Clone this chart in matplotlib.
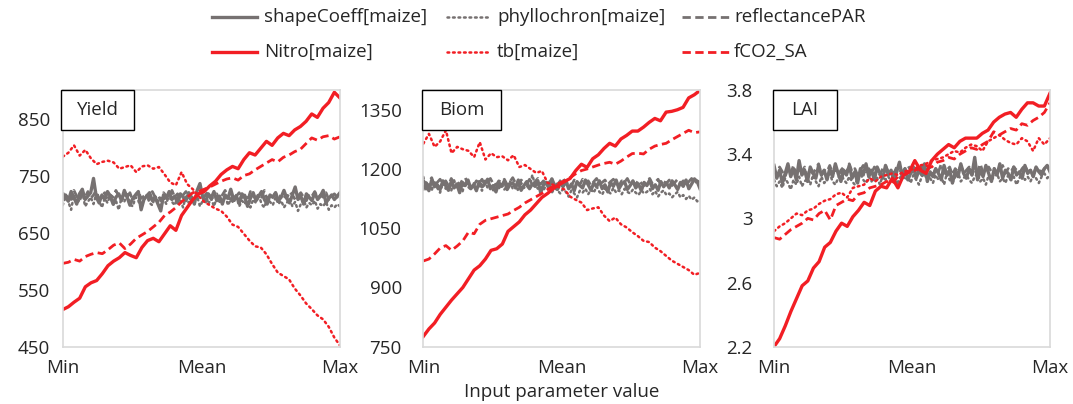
import matplotlib
matplotlib.use("Agg")
import matplotlib.pyplot as plt
from matplotlib.lines import Line2D
from matplotlib.patches import Rectangle
import numpy as np

plt.rcParams['font.family'] = ['Open Sans', 'DejaVu Sans']

# ---------------- data ----------------
series_names = ["shapeCoeff[maize]", "phyllochron[maize]", "reflectancePAR",
                "Nitro[maize]", "tb[maize]", "fCO2_SA"]
x_tick_labels = ["Min", "Mean", "Max"]
panel_titles = ["Yield", "Biom", "LAI"]

# Yield
yield_shape = [710,716,705,722,712,700,718,726,708,714,
               720,745,712,702,716,708,722,714,700,712,
               718,706,724,712,698,710,716,722,690,708,
               714,720,706,712,700,688,716,710,722,708,
               714,702,718,712,706,720,712,700,724,736,
               712,704,718,710,722,706,714,700,716,710,
               726,708,714,702,718,712,696,710,720,706,
               714,722,708,700,716,712,720,706,712,724,
               710,702,716,730,708,714,700,718,712,706,
               720,708,714,724,702,710,716,708,714,720]
yield_phyllo = [698,712,704,690,716,700,708,722,696,704,
                712,700,718,706,694,710,702,716,698,706,
                690,712,704,720,700,696,712,706,692,708,
                716,702,698,714,706,694,710,700,718,704,
                698,712,706,694,716,702,708,700,714,696,
                706,718,700,710,696,712,704,700,716,698,
                708,702,714,696,706,700,712,694,708,702,
                716,700,694,710,704,698,712,700,706,694,
                702,710,696,704,688,700,708,694,702,698,
                706,692,700,696,704,690,698,694,700,696]
yield_reflect = [720,712,718,708,724,714,706,718,712,722,
                 710,716,724,708,714,720,706,716,712,724,
                 714,708,718,712,720,706,716,722,710,714,
                 718,708,722,712,716,706,720,714,710,724,
                 712,718,708,716,722,712,706,718,714,720,
                 710,716,722,708,714,718,706,716,724,712,
                 708,718,714,720,710,716,706,722,714,710,
                 718,712,724,708,716,712,720,706,718,714,
                 710,722,716,708,714,720,712,706,718,714,
                 722,710,716,712,720,708,714,718,712,716]
yield_nitro = [515,520,528,535,555,562,566,578,592,600,606,615,610,606,624,636,640,634,648,662,
               654,680,694,708,718,722,732,740,752,760,766,762,778,790,786,798,810,803,816,824,
               820,830,836,845,858,852,868,878,896,886]
yield_tb = [783,790,803,785,795,780,770,774,776,773,762,765,768,756,766,768,762,765,752,738,
            733,756,735,726,714,704,698,692,688,678,664,660,648,636,626,624,612,595,580,574,
            568,552,540,526,516,505,498,485,466,452]
yield_fco2 = [596,598,603,600,608,612,615,613,620,628,632,622,630,640,646,652,660,668,680,686,
              694,704,712,720,722,726,730,735,740,744,746,742,750,753,760,766,772,778,774,782,
              786,792,796,806,816,812,818,820,814,818]

# Biom
biom_shape = [1150,1165,1145,1172,1155,1160,1148,1170,1158,1146,
              1168,1152,1162,1140,1166,1158,1172,1150,1160,1145,
              1168,1155,1162,1174,1150,1158,1142,1166,1156,1170,
              1148,1160,1165,1152,1172,1146,1158,1168,1150,1162,
              1156,1170,1140,1160,1166,1150,1175,1158,1148,1165,
              1155,1170,1150,1162,1145,1168,1158,1152,1172,1160,
              1146,1165,1155,1170,1150,1160,1142,1166,1156,1172,
              1150,1162,1168,1148,1158,1170,1152,1162,1145,1166,
              1158,1172,1150,1160,1146,1168,1155,1165,1152,1170,
              1160,1148,1166,1156,1172,1150,1162,1175,1168,1150]
biom_phyllo = [1180,1148,1162,1145,1170,1152,1140,1165,1150,1158,
               1145,1172,1150,1160,1142,1168,1155,1148,1165,1150,
               1160,1145,1170,1152,1158,1146,1166,1150,1162,1148,
               1156,1170,1150,1160,1144,1165,1152,1158,1148,1185,
               1160,1150,1155,1145,1162,1150,1140,1152,1146,1138,
               1150,1142,1130,1146,1138,1128,1145,1140,1150,1136,
               1148,1140,1156,1142,1135,1150,1144,1138,1152,1140,
               1146,1136,1150,1142,1138,1148,1140,1134,1146,1138,
               1142,1150,1136,1144,1130,1140,1146,1134,1138,1128,
               1136,1142,1128,1134,1124,1132,1122,1128,1118,1125]
biom_reflect = [1172,1160,1168,1178,1158,1166,1174,1162,1170,1158,
                1176,1164,1168,1160,1172,1178,1162,1166,1158,1170,
                1164,1174,1160,1168,1176,1162,1158,1170,1166,1174,
                1160,1168,1178,1164,1158,1172,1166,1162,1174,1160,
                1168,1176,1162,1170,1158,1166,1174,1164,1160,1170,
                1178,1162,1168,1158,1172,1166,1160,1174,1164,1170,
                1158,1168,1176,1162,1166,1172,1160,1168,1174,1164,
                1158,1170,1166,1176,1162,1168,1160,1172,1164,1158,
                1170,1176,1162,1166,1174,1160,1168,1164,1172,1158,
                1166,1174,1162,1170,1160,1168,1176,1164,1170,1166]
biom_nitro = [776,795,810,832,850,868,884,900,922,944,955,972,994,998,1010,1042,1054,1066,1084,1096,
              1112,1128,1138,1150,1160,1168,1176,1196,1212,1204,1226,1236,1252,1265,1258,1276,1285,1296,1296,1306,
              1318,1328,1322,1344,1346,1350,1356,1380,1388,1399]
biom_tb = [1264,1289,1256,1270,1298,1240,1256,1250,1246,1230,1268,1224,1240,1230,1232,1222,1235,1205,1210,1200,
           1190,1195,1165,1160,1154,1148,1130,1122,1115,1096,1100,1103,1082,1068,1077,1060,1052,1040,1030,1018,
           1015,1001,992,980,968,960,952,944,932,937]
biom_fco2 = [967,972,985,1000,1006,994,1005,1018,1040,1036,1060,1070,1074,1078,1082,1086,1095,1103,1114,1122,
             1130,1138,1148,1156,1164,1170,1178,1188,1196,1200,1205,1210,1214,1217,1212,1220,1230,1239,1240,1238,
             1250,1258,1262,1265,1274,1282,1290,1298,1292,1294]

# LAI
lai_shape = [3.33,3.25,3.30,3.22,3.28,3.34,3.26,3.31,3.24,3.36,
             3.27,3.30,3.23,3.32,3.28,3.25,3.33,3.27,3.30,3.24,
             3.31,3.26,3.34,3.28,3.23,3.30,3.27,3.33,3.25,3.29,
             3.22,3.31,3.27,3.34,3.26,3.30,3.24,3.32,3.28,3.25,
             3.33,3.27,3.30,3.23,3.29,3.35,3.26,3.31,3.24,3.28,
             3.32,3.25,3.30,3.27,3.34,3.23,3.29,3.26,3.31,3.28,
             3.24,3.33,3.27,3.30,3.22,3.29,3.26,3.34,3.28,3.25,
             3.31,3.27,3.38,3.24,3.30,3.26,3.33,3.28,3.23,3.31,
             3.27,3.34,3.25,3.30,3.28,3.24,3.32,3.27,3.29,3.25,
             3.33,3.28,3.30,3.26,3.32,3.29,3.27,3.31,3.33,3.29]
lai_phyllo = [3.24,3.20,3.23,3.19,3.25,3.22,3.18,3.24,3.21,3.26,
              3.20,3.23,3.25,3.21,3.27,3.23,3.20,3.26,3.22,3.24,
              3.28,3.23,3.21,3.25,3.29,3.24,3.22,3.26,3.23,3.21,
              3.25,3.28,3.24,3.22,3.26,3.23,3.29,3.25,3.21,3.27,
              3.24,3.26,3.23,3.28,3.21,3.25,3.27,3.24,3.26,3.22,
              3.27,3.24,3.21,3.26,3.28,3.23,3.25,3.22,3.27,3.24,
              3.26,3.21,3.28,3.24,3.22,3.26,3.29,3.23,3.25,3.27,
              3.24,3.22,3.26,3.28,3.23,3.25,3.21,3.27,3.24,3.26,
              3.28,3.23,3.25,3.22,3.27,3.24,3.26,3.21,3.25,3.28,
              3.24,3.26,3.23,3.27,3.25,3.22,3.26,3.28,3.25,3.27]
lai_reflect = [3.30,3.27,3.32,3.29,3.26,3.31,3.28,3.33,3.27,3.30,
               3.29,3.32,3.26,3.30,3.28,3.31,3.34,3.27,3.30,3.29,
               3.33,3.28,3.31,3.27,3.30,3.32,3.28,3.34,3.29,3.31,
               3.27,3.30,3.33,3.29,3.31,3.28,3.32,3.30,3.27,3.31,
               3.33,3.29,3.30,3.28,3.32,3.30,3.29,3.31,3.33,3.30,
               3.27,3.31,3.29,3.33,3.28,3.30,3.32,3.27,3.31,3.29,
               3.34,3.28,3.30,3.32,3.27,3.31,3.29,3.33,3.28,3.30,
               3.32,3.27,3.31,3.29,3.34,3.28,3.30,3.32,3.29,3.31,
               3.27,3.30,3.33,3.28,3.31,3.29,3.32,3.30,3.28,3.31,
               3.33,3.29,3.30,3.27,3.32,3.30,3.29,3.31,3.33,3.30]
lai_nitro = [2.20,2.25,2.33,2.42,2.50,2.58,2.61,2.69,2.73,2.82,2.85,2.92,2.97,2.95,3.01,3.05,3.10,3.08,3.17,3.20,
             3.19,3.25,3.19,3.27,3.29,3.36,3.30,3.28,3.36,3.40,3.43,3.46,3.44,3.48,3.50,3.50,3.50,3.53,3.55,3.60,
             3.63,3.65,3.66,3.63,3.68,3.72,3.72,3.70,3.70,3.78]
lai_tb = [2.92,2.95,2.97,3.00,3.03,3.02,3.05,3.06,3.09,3.11,3.12,3.15,3.16,3.13,3.19,3.20,3.21,3.25,3.23,3.26,
          3.27,3.28,3.27,3.29,3.30,3.31,3.33,3.34,3.36,3.37,3.38,3.40,3.42,3.41,3.44,3.46,3.45,3.42,3.48,3.50,
          3.52,3.49,3.47,3.46,3.50,3.48,3.42,3.50,3.46,3.50]
lai_fco2 = [2.88,2.87,2.90,2.93,2.95,2.97,3.00,2.99,3.03,3.05,2.99,3.08,3.10,3.12,3.11,3.15,3.16,3.19,3.20,3.21,
            3.23,3.22,3.26,3.27,3.29,3.30,3.31,3.33,3.32,3.35,3.36,3.38,3.37,3.40,3.42,3.44,3.43,3.46,3.48,3.54,
            3.52,3.54,3.56,3.55,3.59,3.58,3.61,3.63,3.66,3.72]

panels = [
    [yield_shape, yield_phyllo, yield_reflect, yield_nitro, yield_tb, yield_fco2],
    [biom_shape, biom_phyllo, biom_reflect, biom_nitro, biom_tb, biom_fco2],
    [lai_shape, lai_phyllo, lai_reflect, lai_nitro, lai_tb, lai_fco2],
]
y_limits = [(450, 900), (750, 1400), (2.2, 3.8)]
y_ticks = [[450, 550, 650, 750, 850], [750, 900, 1050, 1200, 1350], [2.2, 2.6, 3.0, 3.4, 3.8]]
y_tick_labels = [["450", "550", "650", "750", "850"],
                 ["750", "900", "1050", "1200", "1350"],
                 ["2.2", "2.6", "3", "3.4", "3.8"]]

# ---------------- style ----------------
GRAY = "#767171"
RED = "#F21E24"
TXT = "#262626"
styles = [
    dict(color=GRAY, lw=2.4, ls="-"),
    dict(color=GRAY, lw=1.8, ls=(0, (0.7, 1.5)), dash_capstyle="round"),
    dict(color=GRAY, lw=2.0, ls=(0, (3.0, 1.6))),
    dict(color=RED, lw=2.4, ls="-"),
    dict(color=RED, lw=1.8, ls=(0, (0.7, 1.5)), dash_capstyle="round"),
    dict(color=RED, lw=2.0, ls=(0, (3.0, 1.6))),
]
draw_order = [0, 1, 2, 4, 5, 3]

W, H = 1073, 404
fig = plt.figure(figsize=(W / 100, H / 100), dpi=100)

axes_px = [(62.7, 340.0), (423.3, 700.0), (774.0, 1050.0)]
top_px, bot_px = 90.0, 346.7
box_w_px = [73, 79, 64]
ytick_pad = [9, 15.5, 15.5]

for k, (l, r) in enumerate(axes_px):
    ax = fig.add_axes([l / W, 1 - bot_px / H, (r - l) / W, (bot_px - top_px) / H])
    for idx in draw_order:
        vals = panels[k][idx]
        xs = np.linspace(0, 1, len(vals))
        ax.plot(xs, vals, **styles[idx])
    ax.set_xlim(0, 1)
    ax.set_ylim(*y_limits[k])
    ax.set_xticks([0, 0.5, 1])
    ax.set_xticklabels(x_tick_labels, fontsize=13.5, color=TXT)
    ax.set_yticks(y_ticks[k])
    ax.set_yticklabels(y_tick_labels[k], fontsize=13.5, color=TXT)
    ax.tick_params(length=0)
    ax.tick_params(axis="y", pad=ytick_pad[k])
    ax.tick_params(axis="x", pad=9)
    for sp in ax.spines.values():
        sp.set_color("#D9D9D9")
        sp.set_linewidth(1.2)
    bw = box_w_px[k] / (r - l)
    bh = 40 / (bot_px - top_px)
    ax.add_patch(Rectangle((-0.005, 1 - bh), bw, bh, transform=ax.transAxes,
                           facecolor="white", edgecolor="black", lw=1.0, zorder=5,
                           clip_on=False))
    ax.text(-0.005 + bw / 2, 1 - bh / 2, panel_titles[k], transform=ax.transAxes,
            ha="center", va="center", fontsize=13.5, color=TXT, zorder=6)
    if k == 1:
        ax.set_xlabel("Input parameter value", fontsize=13.5, color=TXT, labelpad=4)

# ---------------- legend (manual) ----------------
leg_cols_px = [(212, 257, 264), (447, 491, 497), (682, 729, 734)]
leg_rows_px = [17, 52]
for i, name in enumerate(series_names):
    row = i // 3
    col = i % 3
    x0, x1, xt = leg_cols_px[col]
    y = 1 - leg_rows_px[row] / H
    fig.add_artist(Line2D([x0 / W, x1 / W], [y, y], transform=fig.transFigure, **styles[i]))
    fig.text(xt / W, y, name, ha="left", va="center", fontsize=13.5, color=TXT)

fig.savefig("out.png", dpi=100)
